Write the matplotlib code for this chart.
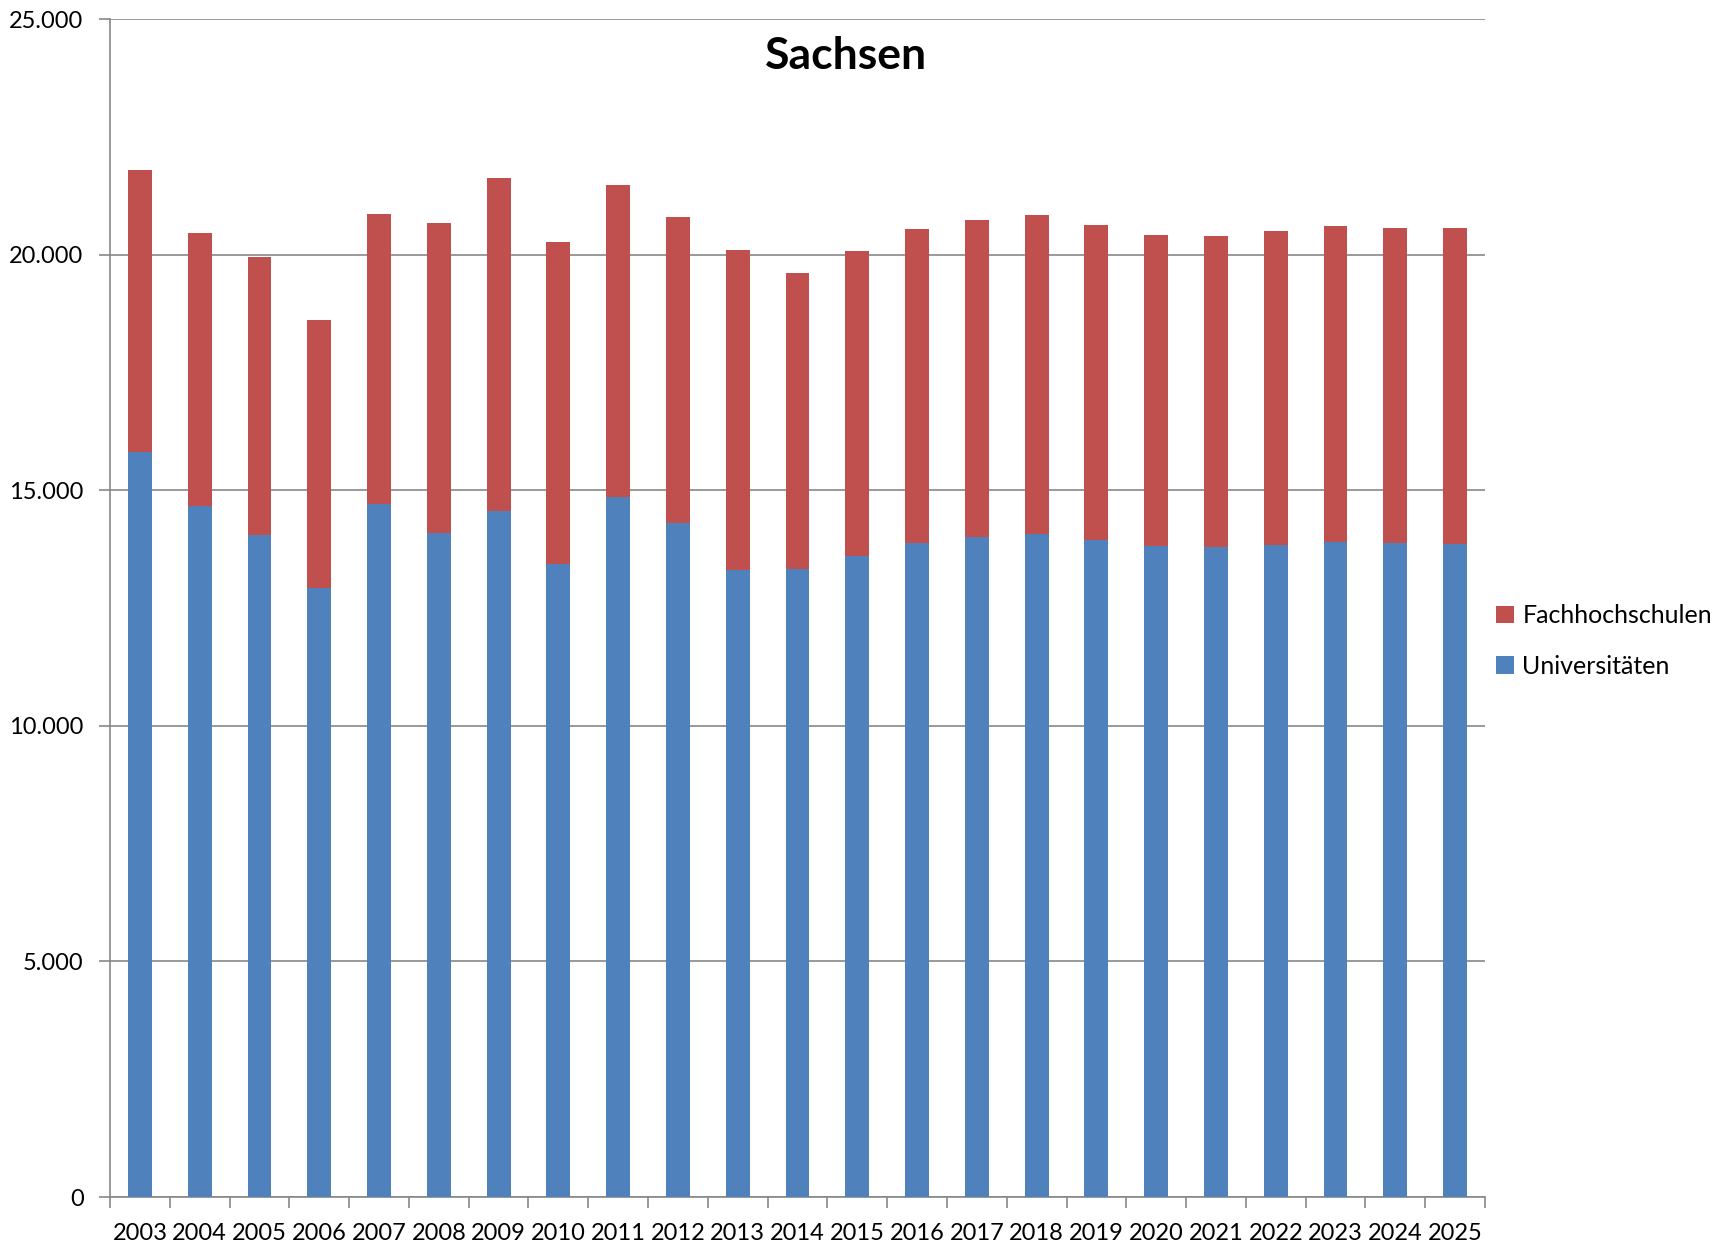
import matplotlib.pyplot as plt
from matplotlib.ticker import FuncFormatter, FixedLocator
import numpy as np

years = [str(y) for y in range(2003, 2026)]
total = [21795, 20464, 19942, 18605, 20854, 20663, 21617, 20273, 21482, 20796,
         20097, 19602, 20075, 20542, 20733, 20832, 20633, 20421, 20393, 20493,
         20612, 20563, 20556]
universitaeten = [15806, 14661, 14045, 12921, 14703, 14094, 14554, 13443, 14864, 14300,
                  13299, 13324, 13613, 13888, 14003, 14066, 13952, 13812, 13790, 13833,
                  13897, 13875, 13854]
fachhochschulen = [t - u for t, u in zip(total, universitaeten)]

plt.rcParams['font.family'] = ['Lato', 'DejaVu Sans']

fig = plt.figure(figsize=(17.27, 12.46), dpi=100)
ax = fig.add_axes([110 / 1727, 1 - 1197 / 1246, (1485 - 110) / 1727, (1197 - 19) / 1246])

x = np.arange(len(years))
blue = "#4F81BD"
red = "#C0504D"
grid = "#888888"

b1 = ax.bar(x, universitaeten, width=0.4, color=blue, label="Universitäten", zorder=3)
b2 = ax.bar(x, fachhochschulen, width=0.4, bottom=universitaeten, color=red,
            label="Fachhochschulen", zorder=3)

ax.set_xlim(-0.5, len(years) - 0.5)
ax.set_ylim(0, 25000)
ax.yaxis.set_major_locator(FixedLocator([0, 5000, 10000, 15000, 20000, 25000]))
ax.yaxis.set_major_formatter(FuncFormatter(lambda v, p: f"{int(v):,}".replace(",", ".")))
ax.set_xticks(x)
ax.set_xticklabels(years)
ax.xaxis.set_minor_locator(FixedLocator(np.arange(-0.5, len(years), 1)))
ax.tick_params(axis="x", which="major", length=0, pad=19, labelsize=17)
ax.tick_params(axis="x", which="minor", length=8, width=1.2, color=grid, direction="out")
ax.tick_params(axis="y", length=8, width=1.2, color=grid, labelsize=17, pad=11)

ax.grid(axis="y", color=grid, linewidth=1.2, zorder=0)
for s in ["top", "right"]:
    ax.spines[s].set_visible(False)
for s in ["left", "bottom"]:
    ax.spines[s].set_color(grid)
    ax.spines[s].set_linewidth(1.2)

fig.text(846 / 1727, 1 - 56 / 1246, "Sachsen", ha="center", va="center",
         fontsize=32, fontweight="bold")

ax.legend([b2, b1], ["Fachhochschulen", "Universitäten"], loc="center left",
          bbox_to_anchor=(1.0, 0.472), frameon=False, fontsize=18, borderaxespad=0.05,
          handlelength=0.7, handleheight=0.7, handletextpad=0.35, labelspacing=1.1)

fig.savefig("out.png", dpi=100)
